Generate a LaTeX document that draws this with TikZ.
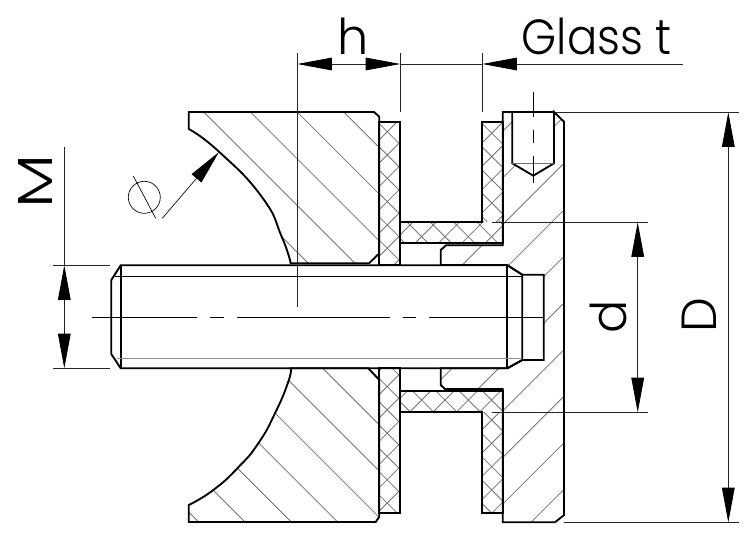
\documentclass[tikz,border=0pt]{standalone}
\usepackage{fontspec}
\usepackage{graphicx}
\newfontfamily\dimfont{Poppins Light}
\usepackage{tikz}
\usetikzlibrary{arrows.meta,calc}
\tikzstyle{outline} = [line width=1.4pt,line join=miter,black]
\tikzstyle{thin} = [line width=0.7pt,black]
\tikzstyle{hatch} = [line width=0.6pt,black!55]
\tikzstyle{dim} = [line width=0.6pt,black!85,>={Triangle[length=26pt,width=9.5pt,color=black]}]
\tikzstyle{label} = [inner sep=0pt,font=\dimfont\fontsize{37}{40}\selectfont]
% part outlines, in image pixels
\def\upperblock{(188.7,112) -- (374,112) -- (379.3,116.7) -- (379.3,253.3) -- (369,263.3) -- (290.7,263.3)
	-- plot[smooth,tension=0.9] coordinates {(290.7,263.3) (281.7,236.7) (261.7,196.7) (219,151.7) (188.7,129)} -- cycle}
\def\lowerblock{(188.7,522) -- (375.7,522) -- (379.3,516.7) -- (379.3,380) -- (368.3,368.3) -- (290.7,368.3)
	-- plot[smooth,tension=0.9] coordinates {(290.7,368.3) (288.3,381.7) (275,413.3) (258.3,443.3) (238.3,467.3) (213.3,490) (188.7,505)} -- cycle}
\def\upperplate{(379.3,121.7) rectangle (400,264.7)}
\def\lowerplate{(379.3,368.3) rectangle (400,512.7)}
\def\uppersleeve{(481.7,121.7) -- (502.7,121.7) -- (502.7,243.3) -- (400,243.3) -- (400,221.7) -- (481.7,221.7) -- cycle}
\def\lowersleeve{(481.7,512.7) -- (502.7,512.7) -- (502.7,391) -- (400,391) -- (400,412.3) -- (481.7,412.3) -- cycle}
\def\body{(502.7,112) -- (512.3,112) -- (512.3,163.3) -- (533.3,175.7) -- (554,163.3) -- (554,112) -- (564,121.7)
	-- (564,515) -- (555,522.3) -- (502.7,522.3) -- (502.7,389) -- (445,389) -- (440.7,385) -- (440.7,368.3)
	-- (507.3,368.3) -- (522.3,360) -- (543.7,360) -- (543.7,274.7) -- (522.3,274.7) -- (507.3,265) -- (440.7,265)
	-- (440.7,250) -- (446,245.3) -- (502.7,245.3) -- cycle}
\newcommand{\crosshatch}[2]{%
	\foreach \k in {-16,...,16} {
		\draw[hatch] ({#1+23.3*\k},0) -- ({#1+23.3*\k-600},600);
		\draw[hatch] ({#2+23.3*\k},0) -- ({#2+23.3*\k+600},600);
	}}

\begin{document}
\begin{tikzpicture}[x=0.75pt,y=-0.75pt]
	\useasboundingbox (0,0) rectangle (756,540);
	% hatching
	\begin{scope}
		\clip \upperblock;
		\foreach \c in {45,91.7,...,240} \draw[hatch] (\c,0) -- (\c+600,600);
	\end{scope}
	\begin{scope}
		\clip \lowerblock;
		\foreach \c in {-323.3,-277,...,-40} \draw[hatch] (\c,0) -- (\c+600,600);
	\end{scope}
	\begin{scope}
		\clip \body;
		\foreach \c in {634,680.6,...,1060} \draw[hatch] (\c,0) -- (\c-600,600);
	\end{scope}
	\begin{scope}
		\clip \upperplate;
		\crosshatch{519}{255.6}
	\end{scope}
	\begin{scope}
		\clip \lowerplate;
		\crosshatch{797}{-22.7}
	\end{scope}
	\begin{scope}
		\clip (481.7,121.7) rectangle (502.7,221.7);
		\crosshatch{625}{358.6}
	\end{scope}
	\begin{scope}
		\clip (400,221.7) rectangle (502.7,243.3);
		\crosshatch{635}{185}
	\end{scope}
	\begin{scope}
		\clip (481.7,412.3) rectangle (502.7,512.7);
		\crosshatch{935}{48.4}
	\end{scope}
	\begin{scope}
		\clip (400,391) rectangle (502.7,412.3);
		\crosshatch{821.7}{-1.7}
	\end{scope}
	% parts
	\draw[outline] \upperblock;
	\draw[outline] \lowerblock;
	\draw[outline] \upperplate;
	\draw[outline] \lowerplate;
	\draw[outline] \uppersleeve;
	\draw[outline] \lowersleeve;
	\draw[outline] \body;
	\draw[outline] (512.3,112) -- (554,112);
	\draw[hatch] (512.3,163.3) -- (554,163.3);
	% bolt
	\draw[outline] (120.7,265.3) -- (507.3,265.3) -- (522.3,274.7) -- (522.3,360) -- (507.3,368.3) -- (120.7,368.3)
		-- (111.3,354) -- (111.3,280) -- cycle;
	\draw[outline] (120.7,265.3) -- (120.7,368.3);
	\draw[outline] (507.3,265.3) -- (507.3,368.3);
	\draw[thin] (115.3,276) -- (522.3,276);
	\draw[line width=0.9pt,black!45] (116.7,358.7) -- (522.3,358.7);
	% centre lines
	\foreach \a/\b in {92/197.3,210/224,236.7/390,403/416,429.3/543.7}
		\draw[thin] (\a,317.3) -- (\b,317.3);
	\foreach \a/\b in {91.7/117,130/143,156/183}
		\draw[thin] (533.3,\a) -- (533.3,\b);
	% helper coordinates
	\coordinate (h-l) at (297.3,64);
	\coordinate (h-r) at (400.3,64);
	\coordinate (t-l) at (482.3,64);
	\coordinate (t-r) at (683,64);
	\coordinate (m-t) at (64.3,265.3);
	\coordinate (m-b) at (64.3,368.3);
	\coordinate (m-end) at (64.3,147.3);
	\coordinate (d-t) at (637.7,222.3);
	\coordinate (d-b) at (637.7,412.3);
	\coordinate (bigd-t) at (728.3,112.3);
	\coordinate (bigd-b) at (728.3,522.3);
	% extension lines
	\draw[dim] (297.3,53) -- (297.3,306.7);
	\draw[dim] (400.3,53) -- (400.3,111.7);
	\draw[dim] (482.3,53) -- (482.3,111.7);
	\draw[dim] (53,265.3) -- (110,265.3);
	\draw[dim] (53,368.3) -- (110,368.3);
	\draw[dim] (492.3,222.3) -- (647.7,222.3);
	\draw[dim] (492.3,412.3) -- (647.7,412.3);
	\draw[dim] (554,112.3) -- (738.7,112.3);
	\draw[dim] (564,522.3) -- (738.7,522.3);
	% dimension lines
	\draw[dim,<->] (h-l) -- (h-r);
	\draw[dim] (h-r) -- (t-l);
	\draw[dim,<-] (t-l) -- (t-r);
	\draw[dim,<->] (m-t) -- (m-b);
	\draw[dim] (m-t) -- (m-end);
	\draw[dim,<->] (d-t) -- (d-b);
	\draw[dim,<->] (bigd-t) -- (bigd-b);
	% diameter mark
	\coordinate (lead-s) at (162.3,218.3);
	\coordinate (lead-e) at (219,152);
	\draw[dim,->] (lead-s) -- (lead-e);
	\draw[thin,line width=0.5pt] (144.3,197.3) circle (16);
	\draw[thin,line width=0.5pt] (133.3,176) -- (155.7,218.3);
	% labels
	\node (label-h) [label,anchor=base] at (353,54) {h};
	\node (label-t) [label,anchor=base] at (596.5,54) {\scalebox{0.91}[1]{Glass t}};
	\node (label-m) [label,anchor=base,rotate=90] at (52,181) {\scalebox{1.3}[1]{M}};
	\node (label-d) [label,anchor=base,rotate=90] at (626.7,316.7) {d};
	\node (label-bigd) [label,anchor=base,rotate=90] at (716.7,315.5) {D};
\end{tikzpicture}
\end{document}
